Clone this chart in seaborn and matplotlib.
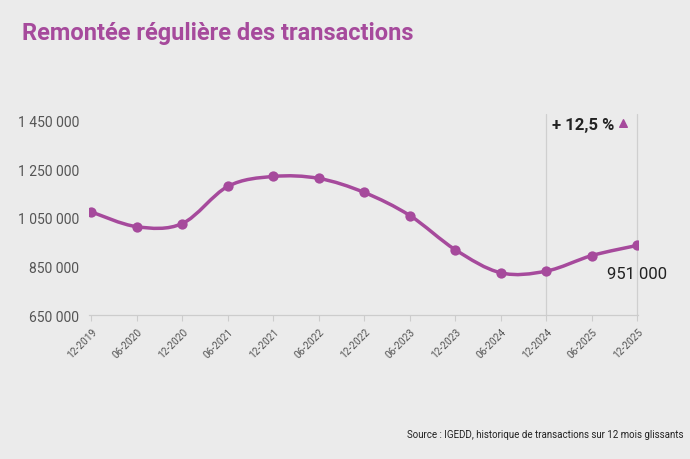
import numpy as np
import pandas as pd
import matplotlib
matplotlib.use("Agg")
import matplotlib.pyplot as plt
from matplotlib.path import Path
from matplotlib.patches import PathPatch
import seaborn as sns

periods = [
    "12-2019", "06-2020", "12-2020", "06-2021", "12-2021", "06-2022",
    "12-2022", "06-2023", "12-2023", "06-2024", "12-2024", "06-2025", "12-2025"
]
transactions = [
    1075000, 1014000, 1027000, 1180000, 1221000, 1213000,
    1155000, 1060000, 919000, 824000, 831000, 895000, 937000
]
y_ticks = [650000, 850000, 1050000, 1250000, 1450000]
y_tick_labels = ["650 000", "850 000", "1 050 000", "1 250 000", "1 450 000"]

PURPLE = "#a64a9c"
BG = "#ebebeb"

df = pd.DataFrame({"x": np.arange(len(periods)), "value": transactions})

sns.set_theme(style="white")
plt.rcParams["font.family"] = ["Roboto", "DejaVu Sans"]

fig = plt.figure(figsize=(6.9, 4.6), dpi=100, facecolor=BG)
ax = fig.add_axes([0.129, 0.313, 0.796, 0.422])
ax.set_facecolor(BG)

# smooth curve (catmull-rom converted to cubic bezier segments)
pts = df[["x", "value"]].to_numpy(dtype=float)
verts = [tuple(pts[0])]
codes = [Path.MOVETO]
for i in range(len(pts) - 1):
    p0 = pts[i - 1] if i > 0 else pts[i]
    p1 = pts[i]
    p2 = pts[i + 1]
    p3 = pts[i + 2] if i + 2 < len(pts) else pts[i + 1]
    c1 = p1 + (p2 - p0) / 6
    c2 = p2 - (p3 - p1) / 6
    verts += [tuple(c1), tuple(c2), tuple(p2)]
    codes += [Path.CURVE4] * 3
ax.add_patch(PathPatch(Path(verts, codes), facecolor="none",
                       edgecolor=PURPLE, lw=2.5, zorder=3))

sns.scatterplot(data=df, x="x", y="value", color=PURPLE, s=55,
                edgecolor=PURPLE, linewidth=0, zorder=4, ax=ax, legend=False)

ax.set_xlim(-0.05, 12.02)
ax.set_ylim(650000, 1450000)

# vertical reference lines at 12-2024 and 12-2025
for xv in [10, 12]:
    ax.axvline(xv, ymin=0, ymax=1.035, color="#cfcfcf", lw=0.9,
               zorder=1, clip_on=False)

ax.set_yticks(y_ticks)
ax.set_yticklabels(y_tick_labels)
ax.set_xticks(df["x"])
ax.set_xticklabels(periods, rotation=45, ha="right", rotation_mode="anchor")
ax.tick_params(axis="y", length=0, pad=7, labelsize=10, labelcolor="#555555")
ax.tick_params(axis="x", length=4, width=0.8, color="#cccccc", pad=4,
               labelsize=7.3, labelcolor="#555555", bottom=True)

for side in ["top", "right", "left"]:
    ax.spines[side].set_visible(False)
ax.spines["bottom"].set_color("#cccccc")
ax.spines["bottom"].set_linewidth(0.9)
ax.set_xlabel("")
ax.set_ylabel("")

ax.text(12.0, 851000, "951 000", ha="center", va="top",
        fontsize=12, color="#222222")
ax.text(11.5, 1437000, "+ 12,5 %", ha="right", va="center",
        fontsize=12, fontweight="bold", color="#222222")
ax.scatter([11.69], [1440000], marker="^", s=30, color=PURPLE,
           clip_on=False, zorder=5)

fig.text(0.032, 0.928, "Remontée régulière des transactions",
         fontsize=17, fontweight="bold", color=PURPLE, ha="left", va="center")
fig.text(0.99, 0.054, "Source : IGEDD, historique de transactions sur 12 mois glissants",
         fontsize=7, color="#222222", ha="right", va="center")

fig.savefig("out.png", dpi=100, facecolor=BG)
